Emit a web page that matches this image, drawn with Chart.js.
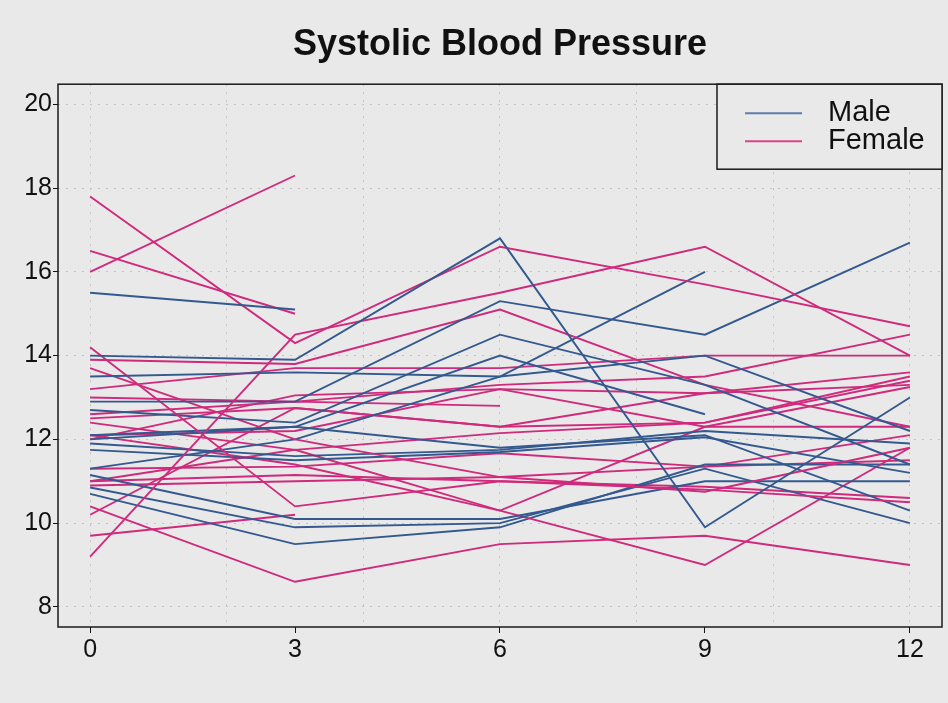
<!DOCTYPE html>
<html lang="en">
<head>
  <meta charset="UTF-8">
  <title>Systolic Blood Pressure</title>
  <style>
    body { margin: 0; background: #e9e9e9; }
    canvas { display: block; }
  </style>
  <script src="https://cdn.jsdelivr.net/npm/chart.js"></script>
</head>
<body>
  <canvas id="sbpChart" width="948" height="703"></canvas>

  <script>
    // time points (months) and axis ticks
    const times = [0, 3, 6, 9, 12];
    const xTicks = [0, 3, 6, 9, 12];
    const xGrid = [0, 2, 4, 6, 8, 10, 12];
    const yTicks = [8, 10, 12, 14, 16, 18, 20];

    // one row per subject, null = no measurement
    const male = [
      [15.5, 15.1, null, null, null],
      [14.0, 13.9, 16.8, 9.9, 13.0],
      [13.5, 13.6, 13.5, 14.0, 12.2],
      [12.9, 12.9, 15.3, 14.5, 16.7],
      [12.7, 12.4, 14.5, 13.3, 11.4],
      [12.1, 12.3, 14.0, 12.6, null],
      [11.3, 12.0, 13.5, 16.0, null],
      [12.0, 12.3, 11.8, 12.1, 10.3],
      [11.9, 11.6, 11.75, 12.2, 11.9],
      [11.75, 11.5, 11.7, 12.05, 11.2],
      [11.15, 10.1, 10.1, 11.0, 11.0],
      [10.85, 9.9, 10.0, 11.3, 10.0],
      [10.7, 9.5, 9.9, 11.4, 11.4]
    ];

    const female = [
      [16.0, 18.3, null, null, null],
      [16.5, 15.0, null, null, null],
      [17.8, 14.3, 16.6, 15.7, 14.7],
      [9.2, 14.5, 15.5, 16.6, 14.0],
      [14.2, 10.4, 11.0, 10.8, 10.5],
      [13.9, 13.8, 15.1, 13.3, 12.3],
      [13.7, 12.0, 11.1, 10.75, 11.8],
      [13.2, 13.7, 13.7, 14.0, 14.0],
      [13.0, 12.9, 13.3, 13.5, 14.5],
      [12.6, 12.9, 12.8, null, null],
      [12.5, 12.75, 12.3, 13.1, 13.6],
      [12.4, 11.75, 12.15, 12.4, 13.5],
      [12.1, 11.4, 10.3, 9.0, 11.8],
      [12.0, 13.05, 13.2, 12.3, 13.25],
      [11.3, 11.35, 11.67, 11.35, 12.1],
      [11.0, 11.15, 11.0, 10.87, 10.6],
      [10.4, 8.6, 9.5, 9.7, 9.0],
      [10.2, 12.75, 12.3, 12.4, 13.4],
      [9.7, 10.2, null, null, null],
      [10.9, 11.0, 11.1, 11.35, 11.5],
      [11.0, 11.75, 10.3, 12.3, 12.3],
      [12.1, 12.2, 13.2, 13.1, 13.3]
    ];

    const maleColor = '#33598f', femaleColor = '#cf2a7c';
    const bg = '#e9e9e9';

    function toDataset(rows, color, group) {
      return rows.map(r => ({
        label: group,
        data: r.map((v, i) => ({ x: times[i], y: v })),
        borderColor: color,
        borderWidth: 1.9,
        pointRadius: 0,
        tension: 0,
        fill: false
      }));
    }

    const datasets = [];
    // interleave so neither colour always sits on top
    const n = Math.max(male.length, female.length);
    for (let i = 0; i < n; i++) {
      if (female[i]) datasets.push(...toDataset([female[i]], femaleColor, 'Female'));
      if (male[i]) datasets.push(...toDataset([male[i]], maleColor, 'Male'));
    }

    // frame around the plot + boxed legend in the top right corner
    const framePlugin = {
      id: 'frame',
      beforeDraw(chart) {
        const c = chart.ctx;
        c.save();
        c.fillStyle = bg;
        c.fillRect(0, 0, chart.width, chart.height);
        c.restore();
      },
      afterDraw(chart) {
        const c = chart.ctx, a = chart.chartArea;
        c.save();
        c.strokeStyle = '#1a1a1a';
        c.lineWidth = 1.5;
        c.strokeRect(a.left, a.top, a.right - a.left, a.bottom - a.top);

        const w = 225, h = 85;
        const bx = a.right - w, by = a.top;
        c.fillStyle = bg;
        c.fillRect(bx, by, w, h);
        c.strokeRect(bx, by, w, h);

        const items = [['Male', '#5e7cad'], ['Female', '#d8448e']];
        c.font = '29px "Liberation Sans", Arial, sans-serif';
        c.textBaseline = 'middle';
        items.forEach(([txt, col], i) => {
          const y = by + 29 + i * 28;
          c.strokeStyle = col;
          c.lineWidth = 2;
          c.beginPath();
          c.moveTo(bx + 28, y);
          c.lineTo(bx + 85, y);
          c.stroke();
          c.fillStyle = '#111';
          c.fillText(txt, bx + 111, y);
        });
        c.restore();
      }
    };

    const tickFont = { family: '"Liberation Sans", Arial, sans-serif', size: 25 };

    new Chart(document.getElementById('sbpChart'), {
      type: 'line',
      data: { datasets },
      options: {
        responsive: false,
        animation: false,
        layout: { padding: { left: 0, right: 6, top: 0, bottom: 0 } },
        plugins: {
          legend: { display: false },
          tooltip: { enabled: false },
          title: {
            display: true,
            text: 'Systolic Blood Pressure',
            fullSize: false,
            color: '#111',
            font: { family: '"Liberation Sans", Arial, sans-serif', size: 36, weight: 'bold' },
            padding: { top: 23, bottom: 18 }
          }
        },
        scales: {
          x: {
            type: 'linear',
            min: -0.47,
            max: 12.47,
            afterBuildTicks: s => {
              const vals = [...new Set([...xTicks, ...xGrid])].sort((a, b) => a - b);
              s.ticks = vals.map(v => ({ value: v }));
            },
            afterFit: s => { s.height = 76; },
            ticks: {
              autoSkip: false,
              maxRotation: 0,
              color: '#111',
              font: tickFont,
              padding: 2,
              callback: v => xTicks.includes(v) ? String(v) : ''
            },
            grid: {
              color: ctx => xGrid.includes(ctx.tick.value) ? '#c4c4c4' : 'transparent',
              tickColor: ctx => xTicks.includes(ctx.tick.value) ? '#111' : 'transparent',
              tickLength: 6,
              lineWidth: 1
            },
            border: { display: false, dash: [2, 6] }
          },
          y: {
            min: 7.52,
            max: 20.48,
            afterBuildTicks: s => { s.ticks = yTicks.map(v => ({ value: v })); },
            afterFit: s => { s.width = 58; },
            ticks: { color: '#111', font: tickFont, padding: 1 },
            grid: {
              color: '#c4c4c4',
              tickColor: '#111',
              tickLength: 5,
              lineWidth: 1
            },
            border: { display: false, dash: [2, 6] }
          }
        }
      },
      plugins: [framePlugin]
    });
  </script>
</body>
</html>
